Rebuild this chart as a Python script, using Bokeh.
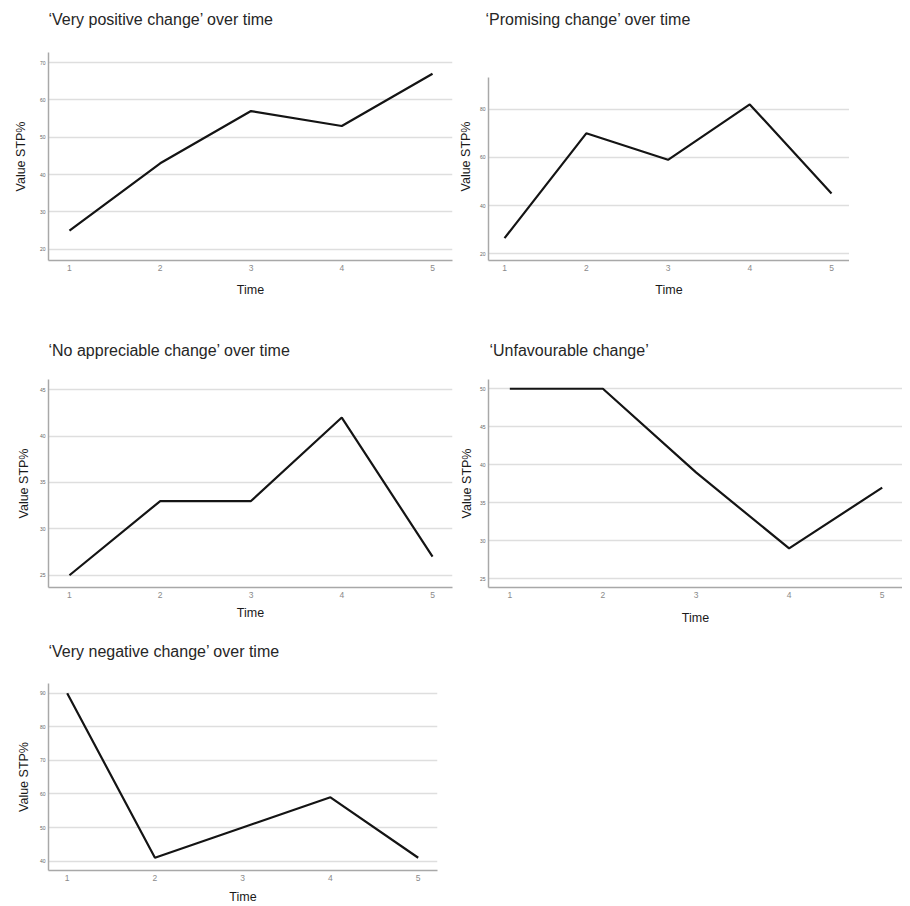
from bokeh.plotting import figure
from bokeh.layouts import column, row
from bokeh.models import FixedTicker
from bokeh.embed import file_html
from bokeh.resources import INLINE

# ---- data ----
time = [1, 2, 3, 4, 5]
very_positive = [25, 43, 57, 53, 67]
promising = [26.5, 70, 59, 82, 45]
no_change = [25, 33, 33, 42, 27]
unfavourable = [50, 50, 39, 29, 37]
very_negative = [90, 41, 50, 59, 41]

titles = ["\u2018Very positive change\u2019 over time",
          "\u2018Promising change\u2019 over time",
          "\u2018No appreciable change\u2019 over time",
          "\u2018Unfavourable change\u2019",
          "\u2018Very negative change\u2019 over time"]
y_ticks = [[20, 30, 40, 50, 60, 70],
           [20, 40, 60, 80],
           [25, 30, 35, 40, 45],
           [25, 30, 35, 40, 45, 50],
           [40, 50, 60, 70, 80, 90]]
series = [very_positive, promising, no_change, unfavourable, very_negative]
x_ranges = [(0.769, 5.22), (0.804, 5.22), (0.769, 5.22), (0.771, 5.218), (0.787, 5.22)]
y_ranges = [(16.97, 72.68), (17.22, 103.53), (23.68, 46.1), (23.86, 51.22), (37.2, 92.9)]
y_axis_top = [None, 93.2, None, None, None]

# layout specs (pixels)
specs = [
    dict(w=455, h=332, bl=48, br=3, bt=74, bb=50, ts=50, toff=0, ys=9, xs=9),
    dict(w=394, h=332, bl=33, br=0, bt=74, bb=50, ts=50, toff=-3, ys=4, xs=9),
    dict(w=455, h=317, bl=48, br=3, bt=69, bb=39, ts=42, toff=0, ys=6, xs=5),
    dict(w=447, h=317, bl=33, br=0, bt=69, bb=39, ts=42, toff=1, ys=3, xs=10),
    dict(w=440, h=293, bl=48, br=3, bt=70, bb=36, ts=48, toff=0, ys=6, xs=6),
]

FONT = "Liberation Sans"
figs = []
for i in range(5):
    s = specs[i]
    p = figure(width=s["w"], height=s["h"], output_backend="svg", toolbar_location=None,
               x_range=x_ranges[i], y_range=y_ranges[i], title=titles[i],
               min_border_left=s["bl"], min_border_right=s["br"],
               min_border_top=s["bt"], min_border_bottom=s["bb"])
    p.line(time, series[i], line_color="#141414", line_width=2.2)
    p.outline_line_color = None
    p.background_fill_color = "white"
    p.border_fill_color = None

    # title
    p.title.text_font = FONT
    p.title.text_font_size = "16px"
    p.title.text_font_style = "normal"
    p.title.text_color = "#262626"
    p.title.align = "left"
    p.title.standoff = s["ts"]
    p.title.offset = s["toff"]

    # grids
    p.xgrid.grid_line_color = None
    p.ygrid.grid_line_color = "#dedede"
    p.ygrid.grid_line_width = 1.3
    # axes
    p.xaxis.ticker = FixedTicker(ticks=time)
    p.yaxis.ticker = FixedTicker(ticks=y_ticks[i])
    if y_axis_top[i] is not None:
        p.yaxis.bounds = (y_ranges[i][0], y_axis_top[i])
    for ax in (p.xaxis[0], p.yaxis[0]):
        ax.axis_line_color = "#a8a8a8"
        ax.axis_line_width = 1.5
        ax.major_tick_line_color = None
        ax.minor_tick_line_color = None
        ax.major_tick_in = 0
        ax.major_tick_out = 0
        ax.axis_label_text_font = FONT
        ax.axis_label_text_font_size = "12.5px"
        ax.axis_label_text_font_style = "normal"
        ax.axis_label_text_color = "#1a1a1a"
        ax.major_label_text_font = FONT
    p.xaxis.axis_label = "Time"
    p.yaxis.axis_label = "Value STP%"
    p.xaxis.major_label_text_font_size = "8.5px"
    p.xaxis.major_label_text_color = "#8a8a8a"
    p.xaxis.major_label_standoff = 4
    p.xaxis.axis_label_standoff = s["xs"]
    p.yaxis.major_label_text_font_size = "5px"
    p.yaxis.major_label_text_color = "#666666"
    p.yaxis.major_label_standoff = 3
    p.yaxis.axis_label_standoff = s["ys"]
    figs.append(p)

layout = column(row(figs[0], figs[1], margin=(-22, 0, 0, 0)),
                row(figs[2], figs[3]),
                row(figs[4], margin=(-14, 0, 0, 0)))
open("out.html", "w").write(file_html(layout, INLINE))
